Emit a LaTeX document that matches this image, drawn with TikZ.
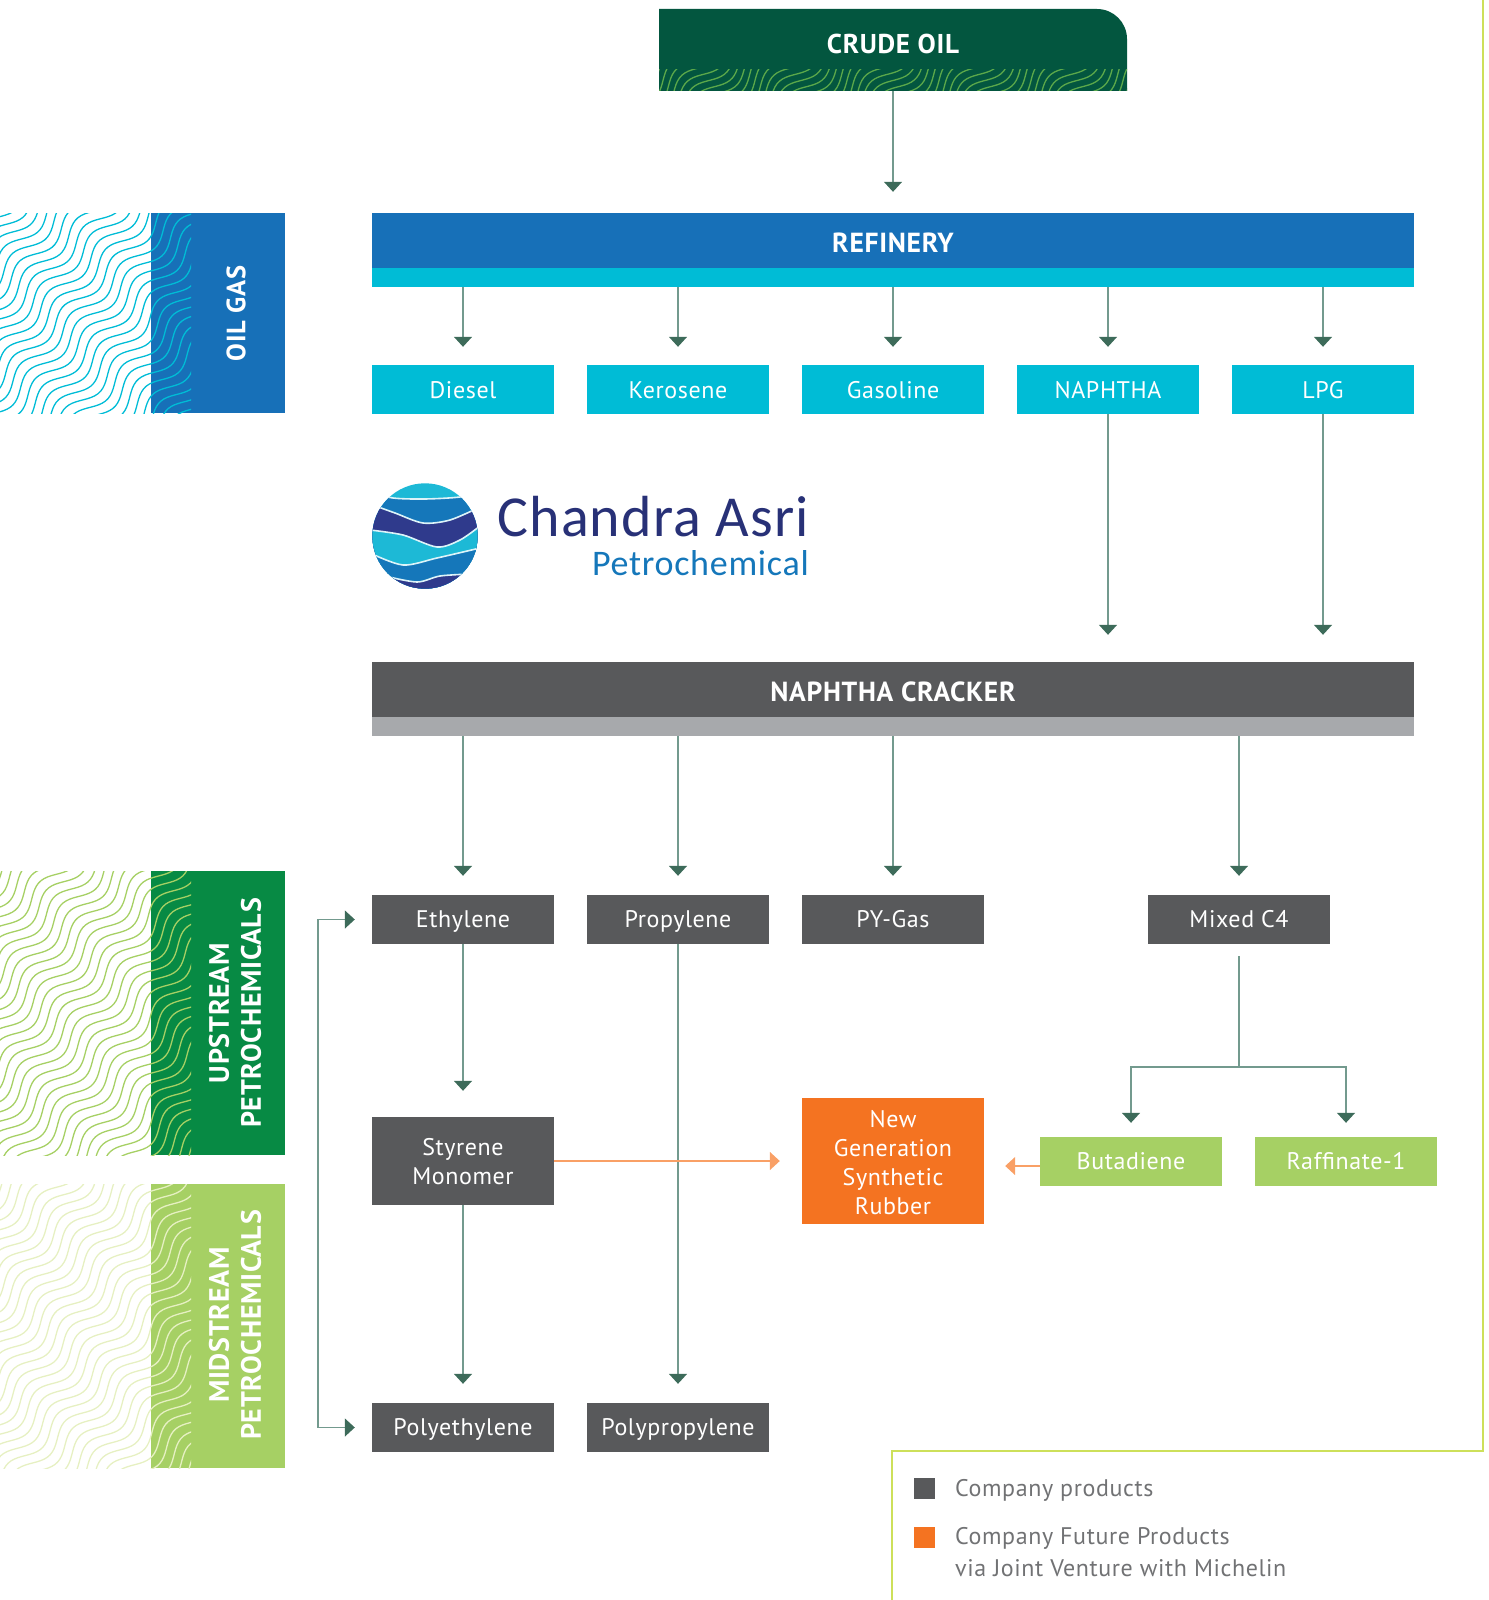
\documentclass[tikz,border=0pt]{standalone}
\usepackage{fontspec}
\setmainfont{PT Sans}[LetterSpace=2.5]
\newfontfamily\logofont{Carlito}[LetterSpace=2]
\usetikzlibrary{arrows.meta}

\definecolor{crudeDark}{HTML}{03563F}
\definecolor{crudeWave}{HTML}{5BA84A}
\definecolor{refineBlue}{HTML}{1770B8}
\definecolor{refineCyan}{HTML}{00BCD6}
\definecolor{slateDark}{HTML}{58595B}
\definecolor{slateLight}{HTML}{A7A9AC}
\definecolor{leafGreen}{HTML}{A6D064}
\definecolor{leafPale}{HTML}{E6F0C2}
\definecolor{upGreen}{HTML}{078A44}
\definecolor{futureOrange}{HTML}{F47321}
\definecolor{futureLine}{HTML}{F9A066}
\definecolor{flowLine}{HTML}{739A8E}
\definecolor{flowHead}{HTML}{3D6B5A}
\definecolor{frameGreen}{HTML}{CDE05A}
\definecolor{logoNavy}{HTML}{2F3A8C}
\definecolor{logoBlue}{HTML}{1577BA}
\definecolor{logoCyan}{HTML}{1DB9D6}

\tikzset{
  baseBox/.style={rectangle,inner sep=0pt,text=white,align=center,font=\fontsize{24}{29}\selectfont},
  oneLine/.style={text height=18pt,text depth=3pt},
  cyanBox/.style={baseBox,text height=19pt,text depth=2pt,fill=refineCyan,minimum width=182pt,minimum height=49pt},
  slateBox/.style={baseBox,oneLine,fill=slateDark,minimum width=182pt,minimum height=49pt},
  leafBox/.style={baseBox,oneLine,fill=leafGreen,minimum width=182pt,minimum height=49pt},
  barBox/.style={baseBox,font=\fontsize{27.6}{32}\selectfont\bfseries,text height=25pt,text depth=2pt,minimum width=1042pt,minimum height=55pt},
  stripBox/.style={rectangle,inner sep=0pt,minimum width=1042pt,minimum height=19pt},
  sideLabel/.style={rotate=90,text=white,align=center,font=\fontsize{28}{32}\selectfont\bfseries},
  legendKey/.style={rectangle,inner sep=0pt,minimum width=21pt,minimum height=21pt},
  legendText/.style={anchor=west,inner sep=0pt,text=slateDark!85,align=left,font=\fontsize{24}{32}\selectfont},
  flow/.style={draw=flowLine,line width=1.5pt,-{Triangle[width=18pt,length=10pt,color=flowHead]}},
  flowBoth/.style={draw=flowLine,line width=1.5pt,{Triangle[width=18pt,length=10pt,color=flowHead]}-{Triangle[width=18pt,length=10pt,color=flowHead]}},
  plainFlow/.style={draw=flowLine,line width=1.5pt},
  futureFlow/.style={draw=futureLine,line width=1.5pt,-{Triangle[width=18pt,length=10pt,color=futureLine]}}
}

\newcommand{\wavePatch}[9]{
  \begin{scope}
    \clip (#1,#2) rectangle (#3,#4);
    \pgfmathtruncatemacro{\nSamp}{40*#9}
    \foreach \k in {-#8,...,#8}
      \draw[#5,line width=1.3pt] plot[domain=-#9:#9,samples=\nSamp]
        ({(#1+#3)/2 + #6*\k + 50*\x + 4.7*sin(360*\x)},
         {(#2+#4)/2 + #7*\k - 50*\x + 4.7*sin(360*\x)});
  \end{scope}
}

\begin{document}
\begin{tikzpicture}[x=1pt,y=-1pt]
\useasboundingbox (0,0) rectangle (1488,1600);

\draw[frameGreen,line width=2pt] (1483,0) -- (1483,1451) -- (892,1451) -- (892,1600);

\fill[refineBlue] (151,213) rectangle (285,413);
\wavePatch{0}{213}{191}{413}{refineCyan}{7.4}{7.4}{15}{3}
\node[sideLabel,font=\fontsize{26.5}{32}\selectfont\bfseries] (oilGas) at (236,313.5) {OIL GAS};

\fill[upGreen] (151,871) rectangle (285,1155);
\wavePatch{0}{871}{191}{1155}{leafGreen}{7.4}{7.4}{18}{3}
\node[sideLabel] (upstream) at (235,1013) {UPSTREAM\\PETROCHEMICALS};

\fill[leafGreen] (151,1184) rectangle (285,1468);
\wavePatch{0}{1184}{191}{1468}{leafPale}{7.4}{7.4}{18}{3}
\node[sideLabel] (midstream) at (235,1325) {MIDSTREAM\\PETROCHEMICALS};

\fill[crudeDark] (659,91) -- (659,9) [rounded corners=30pt] -- (1127,9) [sharp corners] -- (1127,91) -- cycle;
\wavePatch{659}{70}{1127}{91}{crudeWave}{5.25}{6.25}{23}{4}
\node[rectangle,minimum width=468pt,minimum height=82pt,inner sep=0pt] (crudeOil) at (893,50) {};
\node[baseBox,font=\fontsize{27.2}{32}\selectfont\bfseries,text height=21pt,text depth=2pt] (crudeLabel) at (893,44) {CRUDE OIL};

\node[barBox,fill=refineBlue] (refinery) at (893,240.5) {REFINERY};
\node[stripBox,fill=refineCyan] (refineryStrip) at (893,277.5) {};

\node[cyanBox] (diesel) at (463,389.5) {Diesel};
\node[cyanBox] (kerosene) at (678,389.5) {Kerosene};
\node[cyanBox] (gasoline) at (893,389.5) {Gasoline};
\node[cyanBox] (naphtha) at (1108,389.5) {NAPHTHA};
\node[cyanBox] (lpg) at (1323,389.5) {LPG};

\begin{scope}
  \clip (425,536) circle (52.7);
  \fill[logoCyan] (370,480) rectangle (480,600);
  \fill[logoBlue,draw=white!85!logoCyan,line width=1.6pt] plot[smooth] coordinates {(370,492) (393,498) (425,499) (460,497) (480,492)} -- (480,600) -- (370,600) -- cycle;
  \fill[logoNavy,draw=white!85!logoCyan,line width=1.6pt] plot[smooth] coordinates {(370,504) (395,513) (423,523) (450,520) (480,507)} -- (480,600) -- (370,600) -- cycle;
  \fill[logoCyan,draw=white!85!logoCyan,line width=1.6pt] plot[smooth] coordinates {(370,530) (403,535) (437,547) (460,540) (480,526)} -- (480,600) -- (370,600) -- cycle;
  \fill[logoBlue,draw=white!85!logoCyan,line width=1.6pt] plot[smooth] coordinates {(370,553) (403,565) (437,558) (480,548)} -- (480,600) -- (370,600) -- cycle;
  \fill[logoNavy,draw=white!85!logoCyan,line width=1.6pt] plot[smooth] coordinates {(385,576) (417,582) (440,576) (470,574)} -- (480,600) -- (370,600) -- cycle;
\end{scope}
\node[anchor=base east,inner sep=0pt,text=logoNavy!85!black,font=\fontsize{58}{60}\selectfont\logofont] (logoName) at (809,536) {Chandra Asri};
\node[anchor=base east,inner sep=0pt,text=logoBlue,font=\fontsize{36}{40}\selectfont\logofont] (logoSub) at (809,575) {Petrochemical};

\node[barBox,fill=slateDark] (cracker) at (893,689.5) {NAPHTHA CRACKER};
\node[stripBox,fill=slateLight] (crackerStrip) at (893,726.5) {};

\node[slateBox] (ethylene) at (463,919.5) {Ethylene};
\node[slateBox] (propylene) at (678,919.5) {Propylene};
\node[slateBox] (pyGas) at (893,919.5) {PY-Gas};
\node[slateBox] (mixedC) at (1239,919.5) {Mixed C4};
\node[baseBox,fill=slateDark,minimum width=182pt,minimum height=88pt] (styrene) at (463,1161) {\rule{0pt}{19pt}Styrene\\Monomer};
\node[baseBox,fill=futureOrange,minimum width=182pt,minimum height=126pt] (rubber) at (893,1161) {\rule{0pt}{21pt}New\\Generation\\Synthetic\\Rubber};
\node[leafBox] (butadiene) at (1131,1161.5) {Butadiene};
\node[leafBox] (raffinate) at (1346,1161.5) {Raffinate-1};
\node[slateBox] (polyethylene) at (463,1427.5) {Polyethylene};
\node[slateBox] (polypropylene) at (678,1427.5) {Polypropylene};

\draw[flow,shorten >=21pt] (crudeOil.south) -- (refinery.north);
\draw[flow,shorten >=18pt] (refineryStrip.south -| diesel) -- (diesel.north);
\draw[flow,shorten >=18pt] (refineryStrip.south -| kerosene) -- (kerosene.north);
\draw[flow,shorten >=18pt] (refineryStrip.south -| gasoline) -- (gasoline.north);
\draw[flow,shorten >=18pt] (refineryStrip.south -| naphtha) -- (naphtha.north);
\draw[flow,shorten >=18pt] (refineryStrip.south -| lpg) -- (lpg.north);
\draw[flow,shorten >=27pt] (naphtha.south) -- (cracker.north -| naphtha);
\draw[flow,shorten >=27pt] (lpg.south) -- (cracker.north -| lpg);
\draw[flow,shorten >=19pt] (crackerStrip.south -| ethylene) -- (ethylene.north);
\draw[flow,shorten >=19pt] (crackerStrip.south -| propylene) -- (propylene.north);
\draw[flow,shorten >=19pt] (crackerStrip.south -| pyGas) -- (pyGas.north);
\draw[flow,shorten >=19pt] (crackerStrip.south -| mixedC) -- (mixedC.north);
\draw[flow,shorten >=26pt] (ethylene.south) -- (styrene.north);
\draw[flow,shorten >=19pt] (styrene.south) -- (polyethylene.north);
\draw[flow,shorten >=19pt] (propylene.south) -- (polypropylene.north);

\coordinate (splitC) at (mixedC.south |- 0,1067);
\draw[plainFlow,shorten <=12pt] (mixedC.south) -- (splitC);
\draw[flow,shorten >=14pt] (splitC) -| (butadiene.north);
\draw[flow,shorten >=14pt] (splitC) -| (raffinate.north);

\draw[futureFlow,shorten >=22pt] (styrene.east) -- (rubber.west);
\draw[futureFlow,shorten >=21pt] (butadiene.west |- 1041,1166) -- (rubber.east |- 1041,1166);

\coordinate (railTop) at (318,919.5);
\coordinate (railBot) at (318,1427.5);
\draw[flowBoth,shorten <=17pt,shorten >=17pt] (ethylene.west) -- (railTop) -- (railBot) -- (polyethylene.west);

\node[legendKey,fill=slateDark] (legendSlate) at (924.5,1488.5) {};
\node[legendKey,fill=futureOrange] (legendOrange) at (924.5,1537.5) {};
\node[legendText] (legendSlateText) at (955,1490) {Company products};
\node[legendText] (legendOrangeText) at (955,1552) {Company Future Products\\via Joint Venture with Michelin};
\end{tikzpicture}
\end{document}
